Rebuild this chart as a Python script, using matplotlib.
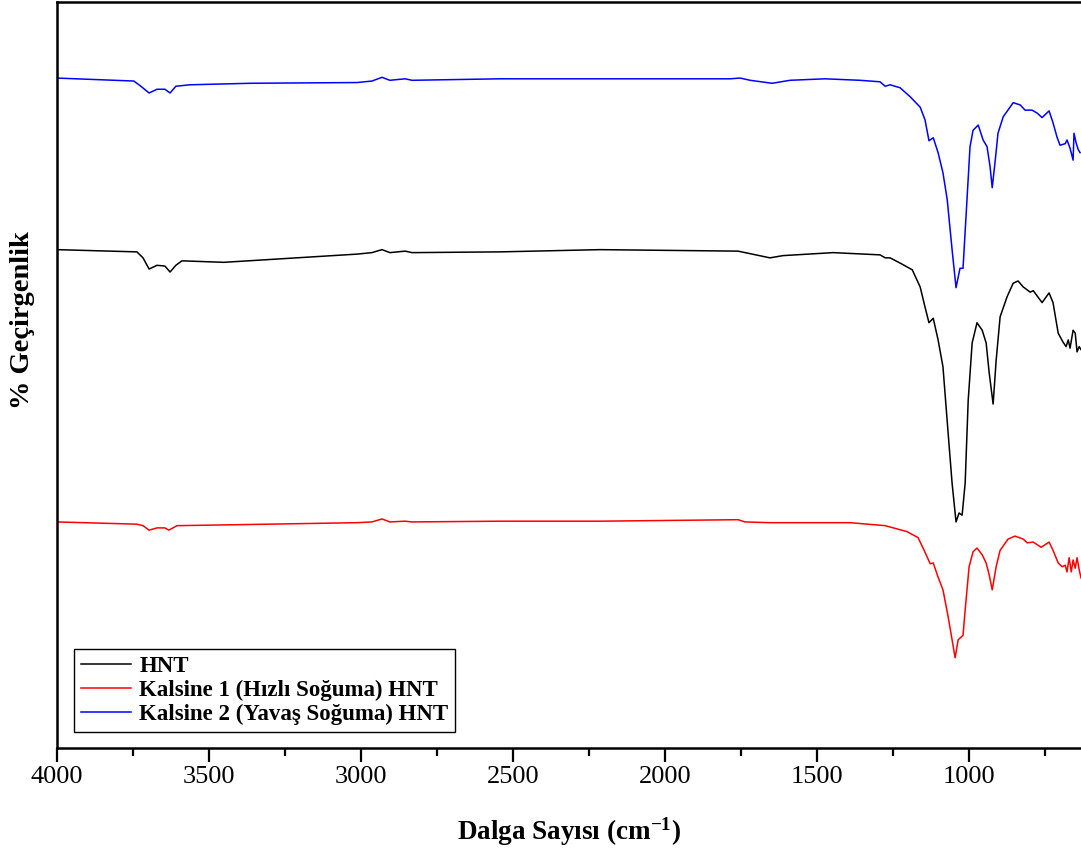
import numpy as np
import matplotlib
import matplotlib.pyplot as plt
from matplotlib.ticker import MultipleLocator
matplotlib.use('Agg')

plt.rcParams['font.family'] = ['Liberation Serif', 'DejaVu Serif']
plt.rcParams['mathtext.fontset'] = 'custom'
plt.rcParams['mathtext.rm'] = 'Liberation Serif:bold'
plt.rcParams['mathtext.bf'] = 'Liberation Serif:bold'
plt.rcParams['mathtext.default'] = 'rm'

# HNT (black)
hnt_wn = [4000, 3737, 3717, 3697, 3671, 3645, 3628, 3609, 3589, 3451, 3013, 2964, 2931, 2905,
          2855, 2832, 2543, 2214, 1760, 1655, 1612, 1447, 1293, 1276, 1260, 1227, 1187, 1161,
          1145, 1132, 1118, 1102, 1086, 1069, 1056, 1043, 1033, 1023, 1013, 1003, 990, 974,
          957, 944, 934, 921, 911, 898, 875, 855, 839, 822, 799, 789, 760, 737, 724, 707,
          691, 681, 674, 668, 658, 651, 645, 638, 632]
hnt_t = [66.8, 66.5, 65.7, 64.2, 64.7, 64.6, 63.8, 64.7, 65.3, 65.1, 66.2, 66.4, 66.8, 66.4,
         66.6, 66.4, 66.5, 66.8, 66.6, 65.7, 66.0, 66.4, 66.1, 65.7, 65.7, 65.0, 64.1, 61.8,
         59.1, 57.0, 57.6, 54.7, 51.1, 42.2, 35.5, 30.3, 31.5, 31.2, 35.5, 46.6, 54.3, 57.0,
         56.0, 54.3, 50.3, 46.1, 52.0, 57.8, 60.5, 62.3, 62.6, 61.8, 61.1, 61.3, 59.7, 61.0,
         59.7, 55.6, 54.4, 53.8, 54.7, 53.6, 56.0, 55.6, 53.1, 53.8, 53.4]

# Kalsine 1 (red)
k1_wn = [4000, 3737, 3717, 3697, 3671, 3645, 3632, 3605, 3451, 3013, 2964, 2931, 2905, 2855,
         2832, 2543, 2214, 1760, 1737, 1655, 1391, 1276, 1204, 1168, 1148, 1128, 1118, 1102,
         1086, 1069, 1056, 1046, 1036, 1020, 1013, 1000, 987, 974, 957, 944, 934, 924, 911,
         898, 872, 849, 822, 809, 789, 763, 737, 724, 707, 694, 684, 678, 671, 664, 658,
         651, 645, 638, 632]
k1_t = [30.3, 30.0, 29.8, 29.2, 29.5, 29.5, 29.2, 29.8, 29.9, 30.2, 30.3, 30.7, 30.3, 30.4,
        30.3, 30.4, 30.4, 30.6, 30.3, 30.2, 30.2, 29.8, 29.0, 28.2, 26.5, 24.7, 24.8, 22.9,
        21.2, 17.6, 14.5, 12.1, 14.5, 15.1, 18.5, 24.3, 26.3, 26.8, 25.9, 24.8, 23.2, 21.2,
        24.3, 26.5, 28.0, 28.4, 28.0, 27.5, 27.6, 26.9, 27.6, 26.5, 24.8, 24.3, 24.5, 23.6,
        25.5, 23.6, 25.2, 24.1, 25.5, 23.9, 22.8]

# Kalsine 2 (blue)
k2_wn = [4000, 3747, 3724, 3697, 3671, 3645, 3628, 3609, 3562, 3365, 3013, 2964, 2931, 2905,
         2855, 2832, 2543, 2214, 1786, 1753, 1720, 1648, 1589, 1474, 1359, 1293, 1276, 1260,
         1227, 1194, 1161, 1145, 1132, 1118, 1102, 1086, 1072, 1056, 1043, 1030, 1020, 1007,
         997, 987, 970, 954, 941, 931, 924, 914, 905, 888, 855, 832, 816, 793, 776, 760,
         737, 724, 711, 701, 684, 678, 668, 658, 655, 648, 641, 635]
k2_t = [89.8, 89.4, 88.7, 87.8, 88.3, 88.3, 87.8, 88.7, 88.9, 89.1, 89.2, 89.4, 89.9, 89.5,
        89.7, 89.5, 89.7, 89.7, 89.7, 89.8, 89.5, 89.1, 89.5, 89.7, 89.5, 89.3, 88.7, 88.9,
        88.5, 87.3, 85.9, 84.2, 81.4, 81.8, 79.8, 77.1, 73.5, 66.8, 61.7, 64.3, 64.3, 73.5,
        80.6, 82.8, 83.5, 81.5, 80.6, 77.9, 75.1, 78.8, 82.4, 84.6, 86.5, 86.2, 85.5, 85.5,
        85.1, 84.5, 85.4, 83.8, 81.9, 80.8, 81.0, 81.5, 80.4, 78.8, 82.4, 81.1, 80.2, 79.8]

labels = ['HNT', 'Kalsine 1 (Hızlı Soğuma) HNT', 'Kalsine 2 (Yavaş Soğuma) HNT']

fig = plt.figure(figsize=(10.81, 8.56), dpi=100)
ax = fig.add_axes([0.0527, 0.1262, 0.9473, 0.8715])

ax.plot(hnt_wn, hnt_t, color='black', lw=1.1, label=labels[0])
ax.plot(k1_wn, k1_t, color='red', lw=1.1, label=labels[1])
ax.plot(k2_wn, k2_t, color='blue', lw=1.1, label=labels[2])

ax.set_xlim(4000, 632)
ax.set_ylim(0, 100)
ax.xaxis.set_major_locator(MultipleLocator(500))
ax.xaxis.set_minor_locator(MultipleLocator(250))
ax.set_yticks([])
ax.spines['right'].set_visible(False)
for s in ['left', 'bottom', 'top']:
    ax.spines[s].set_linewidth(1.8)
ax.tick_params(axis='x', which='major', direction='out', length=10, width=1.6,
               labelsize=19, pad=3)
ax.tick_params(axis='x', which='minor', direction='out', length=6, width=1.6)
ax.tick_params(axis='x', which='both', top=False)

ax.set_xlabel('Dalga Sayısı (cm$^{-1}$)', fontsize=19.5, fontweight='bold', labelpad=20)
ax.set_ylabel('% Geçirgenlik', fontsize=20.5, fontweight='bold')
ax.yaxis.set_label_coords(-0.021, 0.574)

leg = ax.legend(loc='lower left', bbox_to_anchor=(0.0166, 0.0214), borderaxespad=0,
                fancybox=False, edgecolor='black', framealpha=1,
                prop={'weight': 'bold', 'size': 16.5}, handlelength=2.2,
                handletextpad=0.35, labelspacing=0.12, borderpad=0.3)
leg.get_frame().set_linewidth(1.0)

plt.savefig('out.png', dpi=100)
